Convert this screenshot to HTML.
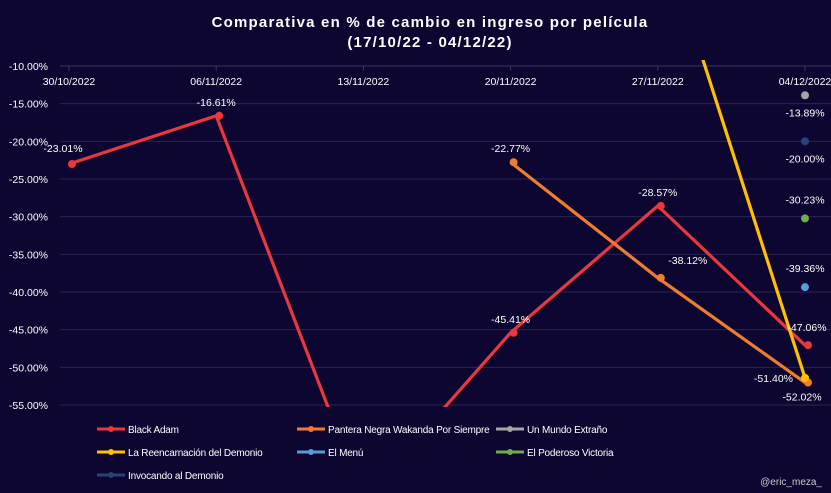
<!DOCTYPE html>
<html><head><meta charset="utf-8"><style>
html,body{margin:0;padding:0;background:#0d0630;}
svg{display:block;font-family:"Liberation Sans",sans-serif;}
</style></head><body>
<svg id="c" width="831" height="493">
<rect width="831" height="493" fill="#0d0630"/>
<text x="430" y="27" fill="#fff" font-size="15" font-weight="bold" text-anchor="middle" letter-spacing="1.2">Comparativa en % de cambio en ingreso por película</text>
<text x="430" y="47" fill="#fff" font-size="15" font-weight="bold" text-anchor="middle" letter-spacing="1.2">(17/10/22  - 04/12/22)</text>
<defs><clipPath id="plot"><rect x="55" y="60" width="776" height="347"/></clipPath></defs>
<g id="grid"></g><g id="xaxis"></g><g id="series" clip-path="url(#plot)"></g><g id="labels"></g><g id="legend"></g>
<text x="822" y="485" fill="#ccc" font-size="10" text-anchor="end">@eric_meza_</text>
</svg>
<script>
const categories=["30/10/2022","06/11/2022","13/11/2022","20/11/2022","27/11/2022","04/12/2022"];
const yTicks=[-10,-15,-20,-25,-30,-35,-40,-45,-50,-55];
const seriesNames=["Black Adam","Pantera Negra Wakanda Por Siempre","Un Mundo Extraño","La Reencarnación del Demonio","El Menú","El Poderoso Victoria","Invocando al Demonio"];
const seriesColors=["#e8383d","#ee7d31","#a5a5a5","#ffc000","#5b9bd5","#70ad47","#264478"];
const blackAdam=[-23.01,-16.61,-67.5,-45.41,-28.57,-47.06];
const pantera=[null,null,null,-22.77,-38.12,-52.02];
const mundo=[null,null,null,null,null,-13.89];
const reencarnacion=[null,null,null,null,9.5,-51.40];
const menu=[null,null,null,null,null,-39.36];
const victoria=[null,null,null,null,null,-30.23];
const invocando=[null,null,null,null,null,-20.00];
const allSeries=[blackAdam,pantera,mundo,reencarnacion,menu,victoria,invocando];
const labelShown=[[1,1,0,1,1,1],[0,0,0,1,1,1],[0,0,0,0,0,1],[0,0,0,0,0,1],[0,0,0,0,0,1],[0,0,0,0,0,1],[0,0,0,0,0,1]];
const NS="http://www.w3.org/2000/svg";
const x=i=>69+i*147.2;
const y=v=>66+(-10-v)*(339/45);
function mk(t,a,p){const e=document.createElementNS(NS,t);for(const k in a)e.setAttribute(k,a[k]);p.appendChild(e);return e;}
const grid=document.getElementById('grid');
yTicks.forEach((t,i)=>{
 const l=mk('line',{x1:60,x2:831,y1:y(t),y2:y(t),stroke:i==0?'#3a3566':'#2a2555','stroke-width':1},grid);
 
 
 const tx=mk('text',{x:48,y:y(t)+4,fill:'#fff','font-size':10.5,'text-anchor':'end'},grid);
 tx.textContent=t.toFixed(2)+'%';
 
 
});
const xa=document.getElementById('xaxis');
categories.forEach((c,i)=>{
 const tk=mk('line',{x1:x(i),x2:x(i),y1:y(-10),y2:y(-10)+5,stroke:'#3a3566'},xa);
 
 
 const t=mk('text',{x:x(i),y:85,fill:'#fff','font-size':10.5,'text-anchor':'middle'},xa);
 t.textContent=c;
 
 
});
const sg=document.getElementById('series'), lg=document.getElementById('labels');
allSeries.forEach((s,si)=>{
 const pts=s.map((v,i)=>v===null?null:[x(i),y(v)]).filter(p=>p);
 if(pts.length>1){
  const pl=mk('polyline',{points:pts.map(p=>p.join(',')).join(' '),fill:'none',stroke:seriesColors[si],'stroke-width':3.2,'stroke-linejoin':'round'},sg);
  
  
 }
 s.forEach((v,i)=>{
  if(v===null)return;
  const c=mk('circle',{cx:x(i)+(si==0||si==1?3:0),cy:y(v),r:4,fill:seriesColors[si]},sg);
  
  
  if(!labelShown[si][i])return;
  let dx=0,dy=-10,anchor='middle';
  if(si==0&&i==0){dx=-6;dy=-12;}
  if(si==0&&i==5){dx=2;dy=-14;anchor='middle';}
  if(si==1&&i==4){dx=30;dy=-14;}
  if(si==1&&i==5){dx=-3;dy=18;}
  if(si==3){dx=-12;dy=4;anchor='end';}
  if(si==2||si==6){dy=21;}
  if(si==4||si==5){dy=-15;}
  const t=mk('text',{x:x(i)+dx,y:y(v)+dy,fill:'#fff','font-size':10.5,'text-anchor':anchor},lg);
  t.textContent=v.toFixed(2)+'%';
  
  
 });
});
const leg=document.getElementById('legend');
const lpos=[[97,429],[297,429],[496,429],[97,452],[297,452],[496,452],[97,475]];
seriesNames.forEach((n,i)=>{
 const [lx,ly]=lpos[i];
 const g=mk('g',{},leg);
 
 
 mk('line',{x1:lx,x2:lx+28,y1:ly,y2:ly,stroke:seriesColors[i],'stroke-width':3},g);
 mk('circle',{cx:lx+14,cy:ly,r:3,fill:seriesColors[i]},g);
 const t=mk('text',{x:lx+31,y:ly+4,fill:'#fff','font-size':10,'letter-spacing':-0.2},g);
 t.textContent=n;
});
</script>
</body></html>
